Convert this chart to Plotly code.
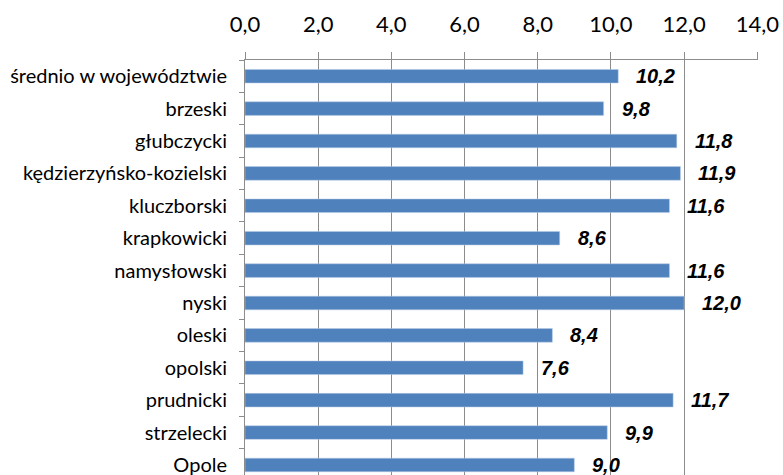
import plotly.graph_objects as go

categories = ["średnio w województwie", "brzeski", "głubczycki", "kędzierzyńsko-kozielski",
              "kluczborski", "krapkowicki", "namysłowski", "nyski", "oleski", "opolski",
              "prudnicki", "strzelecki", "Opole"]
values = [10.2, 9.8, 11.8, 11.9, 11.6, 8.6, 11.6, 12.0, 8.4, 7.6, 11.7, 9.9, 9.0]
x_ticks = [0, 2, 4, 6, 8, 10, 12, 14]

fig = go.Figure()
fig.add_trace(go.Bar(
    x=values, y=categories, orientation="h",
    marker=dict(color="#4F81BD", line=dict(color="#B8CCE4", width=0.5)),
    width=0.42,
))

for c, v in zip(categories, values):
    fig.add_annotation(
        x=v, y=c, text=f"{v:.1f}".replace(".", ","), showarrow=False,
        xanchor="left", xshift=16,
        font=dict(family="Liberation Sans, Arial", size=20, color="black", weight="bold", style="italic"),
    )

fig.update_layout(
    width=783, height=475,
    margin=dict(l=245, r=25, t=60, b=0, autoexpand=False),
    plot_bgcolor="white", paper_bgcolor="white",
    showlegend=False,
    separators=", ",
)
fig.update_xaxes(
    side="top", range=[0, 14.02], tickvals=x_ticks, tickformat=".1f",
    showgrid=True, gridcolor="#8C8C8C", gridwidth=1,
    showline=True, linecolor="#8C8C8C", linewidth=1,
    ticks="outside", ticklen=7, tickcolor="#8C8C8C",
    tickfont=dict(family="Lato, Carlito, Calibri, sans-serif", size=22, color="black"),
    ticklabelstandoff=11,
    zeroline=False, automargin=False,
)
fig.update_yaxes(
    type="category", categoryorder="array", categoryarray=categories,
    range=[12.31, -0.5],
    showline=True, linecolor="#8C8C8C", linewidth=1,
    ticks="outside", ticklen=5, tickcolor="#8C8C8C", tickson="boundaries",
    tickfont=dict(family="Lato, Carlito, Calibri, sans-serif", size=20, color="black"),
    ticklabelstandoff=13,
    showgrid=False, automargin=False,
)

fig.write_html(
    "out.html",
    config={"displayModeBar": False},
    post_script="document.body.style.margin='0';document.body.style.overflow='hidden';",
)
